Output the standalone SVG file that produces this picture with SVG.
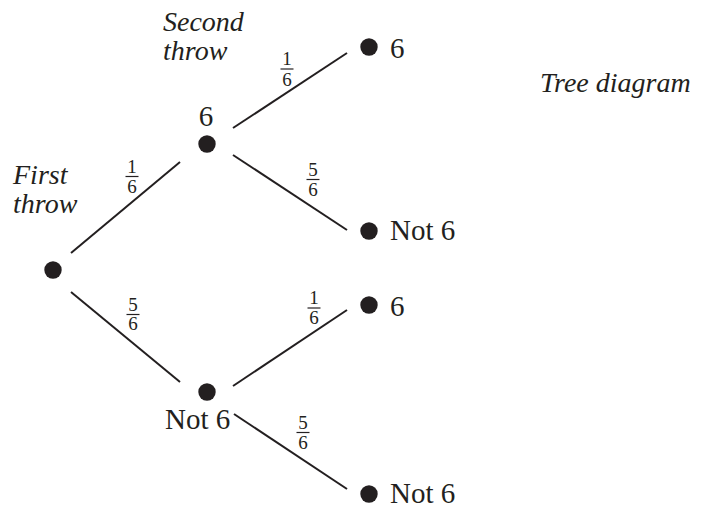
<svg xmlns="http://www.w3.org/2000/svg" width="701" height="509" viewBox="0 0 701 509">
<style>
.lbl{font-family:"Liberation Serif","Times New Roman",serif;font-size:29px;fill:#231f20}
.it{font-family:"Liberation Serif","Times New Roman",serif;font-size:28px;font-style:italic;fill:#231f20}
.fr{font-family:"Liberation Serif","Times New Roman",serif;font-size:19px;fill:#231f20;text-anchor:middle}
.dot{fill:#231f20}
.edge{stroke:#231f20;stroke-width:2;fill:none}
.bar{stroke:#231f20;stroke-width:1.2}
</style>
<rect width="701" height="509" fill="#fff"/>
<g id="headings">
<text class="it" x="163" y="31">Second</text>
<text class="it" x="163" y="60">throw</text>
<text class="it" x="13" y="184">First</text>
<text class="it" x="13" y="213">throw</text>
<text class="it" x="540" y="92">Tree diagram</text>
</g>
<g id="connectors">
<line class="edge" x1="71" y1="253" x2="180" y2="162"/>
<line class="edge" x1="71" y1="292" x2="180" y2="382"/>
<line class="edge" x1="233" y1="128" x2="347" y2="53"/>
<line class="edge" x1="233" y1="155" x2="347" y2="230"/>
<line class="edge" x1="233" y1="386" x2="347" y2="310"/>
<line class="edge" x1="234" y1="414" x2="347" y2="489"/>
<g id="f1"><text class="fr" x="132" y="173">1</text><line class="bar" x1="125.5" y1="176.5" x2="138.5" y2="176.5"/><text class="fr" x="132" y="193">6</text></g>
<g id="f2"><text class="fr" x="133" y="311">5</text><line class="bar" x1="126.5" y1="314.5" x2="139.5" y2="314.5"/><text class="fr" x="133" y="330">6</text></g>
<g id="f3"><text class="fr" x="287" y="65">1</text><line class="bar" x1="280.5" y1="69" x2="293.5" y2="69"/><text class="fr" x="287" y="86">6</text></g>
<g id="f4"><text class="fr" x="313" y="176">5</text><line class="bar" x1="306.5" y1="179.5" x2="319.5" y2="179.5"/><text class="fr" x="313" y="196">6</text></g>
<g id="f5"><text class="fr" x="314" y="304">1</text><line class="bar" x1="307.5" y1="308" x2="320.5" y2="308"/><text class="fr" x="314" y="324">6</text></g>
<g id="f6"><text class="fr" x="303" y="429">5</text><line class="bar" x1="296.5" y1="432.5" x2="309.5" y2="432.5"/><text class="fr" x="303" y="449">6</text></g>
</g>
<g id="root"><circle class="dot" cx="53" cy="270" r="8.7"/></g>
<g id="n6"><circle class="dot" cx="207" cy="144" r="8.7"/><text class="lbl" x="206" y="126" text-anchor="middle">6</text></g>
<g id="nNot6"><circle class="dot" cx="207" cy="392" r="8.7"/><text class="lbl" x="165" y="429">Not 6</text></g>
<g id="l66"><circle class="dot" cx="369" cy="47" r="8.7"/><text class="lbl" x="390" y="58">6</text></g>
<g id="l6n"><circle class="dot" cx="369" cy="231" r="8.7"/><text class="lbl" x="390" y="240">Not 6</text></g>
<g id="ln6"><circle class="dot" cx="369" cy="305" r="8.7"/><text class="lbl" x="390" y="316">6</text></g>
<g id="lnn"><circle class="dot" cx="369" cy="494" r="8.7"/><text class="lbl" x="390" y="503">Not 6</text></g>
</svg>
